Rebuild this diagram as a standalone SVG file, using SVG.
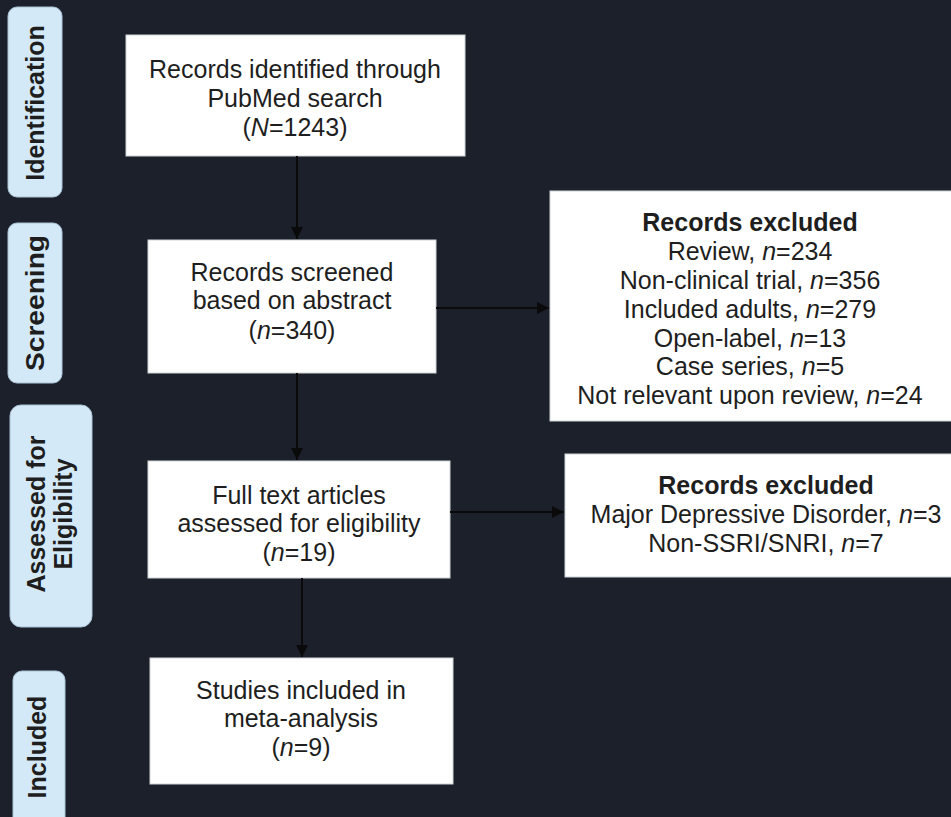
<svg xmlns="http://www.w3.org/2000/svg" width="951" height="817" viewBox="0 0 951 817">
<style>
.bg{fill:#1c202b}
.side{fill:#d4e9f8;stroke:#a9c3d6;stroke-width:1}
.box{fill:#ffffff;stroke:#cfd3d8;stroke-width:1}
.t{font-family:"Liberation Sans",Arial,sans-serif;font-size:25px;fill:#1e1e1e;text-anchor:middle}
.b{font-weight:bold}
.i{font-style:italic}
.lbl{font-family:"Liberation Sans",Arial,sans-serif;font-size:25px;font-weight:bold;fill:#1e1e1e;text-anchor:middle}
.arrow{stroke:#0a0a0a;stroke-width:2;fill:none}
</style>
<defs>
<marker id="ah" viewBox="0 0 10 10" refX="10" refY="5" markerWidth="6" markerHeight="6" orient="auto" markerUnits="strokeWidth">
<path d="M0,0 L10,5 L0,10 Z" fill="#0a0a0a"/>
</marker>
</defs>
<rect class="bg" x="0" y="0" width="951" height="817"/>

<g id="label-identification">
<rect class="side" x="8" y="7" width="54" height="190" rx="9"/>
<text class="lbl" transform="translate(44,103) rotate(-90)">Identification</text>
</g>
<g id="label-screening">
<rect class="side" x="8" y="223" width="54" height="160" rx="9"/>
<text class="lbl" transform="translate(44,303) rotate(-90)" textLength="136" lengthAdjust="spacingAndGlyphs">Screening</text>
</g>
<g id="label-eligibility">
<rect class="side" x="10" y="405" width="82" height="222" rx="11"/>
<text class="lbl" transform="translate(45,514) rotate(-90)">Assessed for</text>
<text class="lbl" transform="translate(72,514) rotate(-90)">Eligibility</text>
</g>
<g id="label-included">
<rect class="side" x="13" y="671" width="52" height="170" rx="9"/>
<text class="lbl" transform="translate(46,747) rotate(-90)">Included</text>
</g>

<g id="node-identified">
<rect class="box" x="126" y="35" width="339" height="121"/>
<text class="t" x="295" y="78">Records identified through</text>
<text class="t" x="295" y="107">PubMed search</text>
<text class="t" x="295" y="136">(<tspan class="i">N</tspan>=1243)</text>
</g>
<g id="node-screened">
<rect class="box" x="148" y="240" width="288" height="133"/>
<text class="t" x="292" y="281">Records screened</text>
<text class="t" x="292" y="309">based on abstract</text>
<text class="t" x="292" y="339">(<tspan class="i">n</tspan>=340)</text>
</g>
<g id="node-excluded1">
<rect class="box" x="550" y="191" width="410" height="230"/>
<text class="t b" x="750" y="231">Records excluded</text>
<text class="t" x="750" y="260">Review, <tspan class="i">n</tspan>=234</text>
<text class="t" x="750" y="289">Non-clinical trial, <tspan class="i">n</tspan>=356</text>
<text class="t" x="750" y="318">Included adults, <tspan class="i">n</tspan>=279</text>
<text class="t" x="750" y="347">Open-label, <tspan class="i">n</tspan>=13</text>
<text class="t" x="750" y="375">Case series, <tspan class="i">n</tspan>=5</text>
<text class="t" x="750" y="404">Not relevant upon review, <tspan class="i">n</tspan>=24</text>
</g>
<g id="node-fulltext">
<rect class="box" x="148" y="461" width="302" height="117"/>
<text class="t" x="299" y="504">Full text articles</text>
<text class="t" x="299" y="532">assessed for eligibility</text>
<text class="t" x="299" y="561">(<tspan class="i">n</tspan>=19)</text>
</g>
<g id="node-excluded2">
<rect class="box" x="565" y="454" width="410" height="123"/>
<text class="t b" x="766" y="494">Records excluded</text>
<text class="t" x="766" y="523">Major Depressive Disorder, <tspan class="i">n</tspan>=3</text>
<text class="t" x="766" y="552">Non-SSRI/SNRI, <tspan class="i">n</tspan>=7</text>
</g>
<g id="node-included">
<rect class="box" x="150" y="658" width="303" height="126"/>
<text class="t" x="301" y="699">Studies included in</text>
<text class="t" x="301" y="727">meta-analysis</text>
<text class="t" x="301" y="756">(<tspan class="i">n</tspan>=9)</text>
</g>

<g id="connectors">
<line class="arrow" x1="297" y1="156" x2="297" y2="239" marker-end="url(#ah)"/>
<line class="arrow" x1="297" y1="373" x2="297" y2="460" marker-end="url(#ah)"/>
<line class="arrow" x1="302" y1="578" x2="302" y2="657" marker-end="url(#ah)"/>
<line class="arrow" x1="436" y1="308" x2="549" y2="308" marker-end="url(#ah)"/>
<line class="arrow" x1="450" y1="512" x2="564" y2="512" marker-end="url(#ah)"/>
</g>
</svg>
